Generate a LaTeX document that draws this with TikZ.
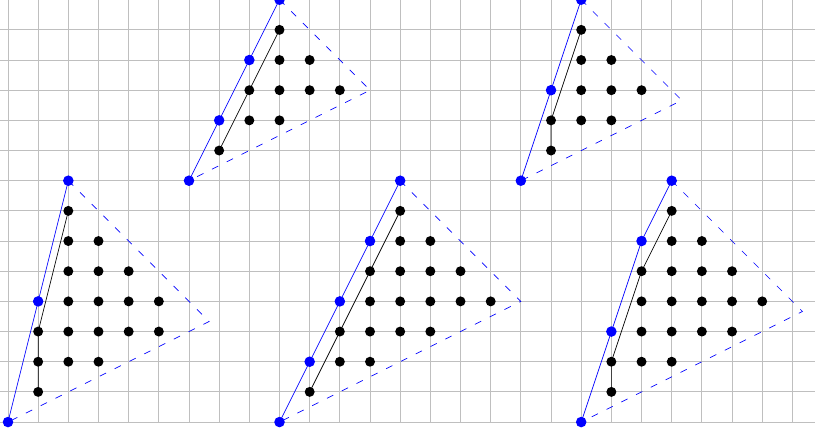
\documentclass[tikz,border=0pt]{standalone}
\usetikzlibrary{calc}
\tikzset{
  gridline/.style={gray!50, line width=0.8pt},
  blueline/.style={blue, line width=0.65pt},
  blackline/.style={black, line width=0.65pt},
  dashline/.style={blue, line width=0.65pt, dash pattern=on 6.6pt off 9pt},
  bdot/.style={circle, fill=blue, draw=none, inner sep=0pt, minimum size=0.35cm},
  kdot/.style={circle, fill=black, draw=none, inner sep=0pt, minimum size=0.33cm},
}
\begin{document}
\begin{tikzpicture}
\useasboundingbox (-0.265,-0.464) rectangle (26.75,13.99);
\clip (-0.265,-0.464) rectangle (26.75,13.99);
\draw[gridline] (-1,0) grid (27,14);

% triangle 1
\coordinate (a1) at (0,0); \coordinate (m1) at (1,4); \coordinate (b1) at (2,8);
\coordinate (c1) at (20/3,10/3);
\coordinate (p1a) at (1,1); \coordinate (p1b) at (1,3); \coordinate (p1c) at (2,7);
% triangle 2
\coordinate (a2) at (9,0); \coordinate (b2) at (13,8); \coordinate (c2) at (17,4);
\coordinate (p2a) at (10,1); \coordinate (p2b) at (13,7);
% triangle 3
\coordinate (a3) at (19,0); \coordinate (m3a) at (20,3); \coordinate (m3b) at (21,6);
\coordinate (b3) at (22,8); \coordinate (c3) at (79/3,11/3);
\coordinate (p3a) at (20,1); \coordinate (p3b) at (20,2); \coordinate (p3c) at (21,5); \coordinate (p3d) at (22,7);
% triangle 4
\coordinate (a4) at (6,8); \coordinate (b4) at (9,14); \coordinate (c4) at (12,11);
\coordinate (p4a) at (7,9); \coordinate (p4b) at (9,13);
% triangle 5
\coordinate (a5) at (17,8); \coordinate (b5) at (19,14); \coordinate (c5) at (67/3,32/3);
\coordinate (p5a) at (18,9); \coordinate (p5b) at (18,10); \coordinate (p5c) at (19,13);

% blue solid sides
\draw[blueline] (a1) -- (m1) -- (b1);
\draw[blueline] (a2) -- (b2);
\draw[blueline] (a3) -- (m3a) -- (m3b) -- (b3);
\draw[blueline] (a4) -- (b4);
\draw[blueline] (a5) -- (b5);
% dashed sides
\draw[dashline] (b1) -- (c1) -- (a1);
\draw[dashline] (b2) -- (c2) -- (a2);
\draw[dashline] (b3) -- (c3) -- (a3);
\draw[dashline] (b4) -- (c4) -- (a4);
\draw[dashline] (b5) -- (c5) -- (a5);
% black paths
\draw[blackline] (p1a) -- (p1b) -- (p1c);
\draw[blackline] (p2a) -- (p2b);
\draw[blackline] (p3a) -- (p3b) -- (p3c) -- (p3d);
\draw[blackline] (p4a) -- (p4b);
\draw[blackline] (p5a) -- (p5b) -- (p5c);

% black dots
\foreach \x/\y in {1/1,1/2,1/3,2/2,2/3,2/4,2/5,2/6,2/7,3/2,3/3,3/4,3/5,3/6,4/3,4/4,4/5,5/3,5/4,
  10/1,11/2,12/2,11/3,12/3,13/3,14/3,12/4,13/4,14/4,15/4,16/4,12/5,13/5,14/5,15/5,13/6,14/6,13/7,
  20/1,20/2,21/2,22/2,21/3,22/3,23/3,24/3,21/4,22/4,23/4,24/4,25/4,21/5,22/5,23/5,24/5,22/6,23/6,22/7,
  7/9,8/10,9/10,8/11,9/11,10/11,11/11,9/12,10/12,9/13,
  18/9,18/10,19/10,20/10,19/11,20/11,21/11,19/12,20/12,19/13}
  \node[kdot] (k-\x-\y) at (\x,\y) {};
% blue dots
\foreach \x/\y in {0/0,1/4,2/8, 9/0,10/2,11/4,12/6,13/8, 19/0,20/3,21/6,22/8, 6/8,7/10,8/12,9/14, 17/8,18/11,19/14}
  \node[bdot] (u-\x-\y) at (\x,\y) {};
\end{tikzpicture}
\end{document}
